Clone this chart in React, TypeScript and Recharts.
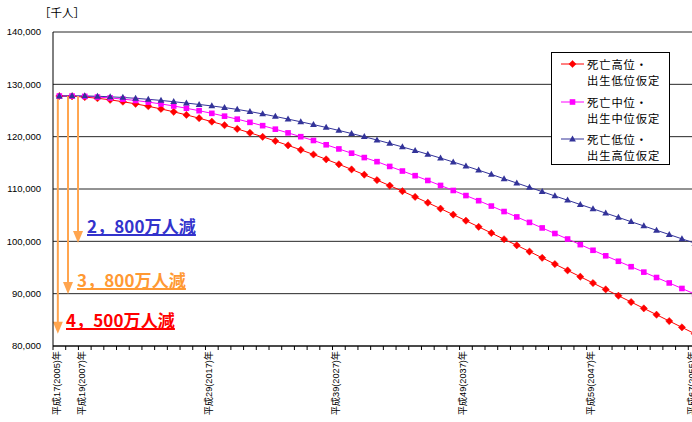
import React from "react";
import {
  LineChart,
  Line,
  XAxis,
  YAxis,
  CartesianGrid,
  Legend,
  ReferenceLine,
} from "recharts";

const YEARS = Array.from({ length: 51 }, (_, i) => 2005 + i);

// 死亡高位・出生低位仮定
const HIGH_DEATH_LOW_BIRTH = [
  127768, 127718, 127568, 127338, 127038, 126678, 126268, 125808, 125298, 124748,
  124158, 123528, 122868, 122190, 121480, 120740, 119970, 119170, 118340, 117480,
  116590, 115670, 114720, 113740, 112730, 111700, 110650, 109580, 108490, 107380,
  106250, 105100, 103940, 102770, 101590, 100400, 99240, 98050, 96850, 95650,
  94450, 93240, 92030, 90820, 89610, 88400, 87190, 85980, 84770, 83560, 82350,
];

// 死亡中位・出生中位仮定
const MID_DEATH_MID_BIRTH = [
  127768, 127762, 127694, 127568, 127395, 127176, 126913, 126605, 126254, 125862,
  125430, 124961, 124456, 123918, 123347, 122735, 122103, 121430, 120723, 119996,
  119270, 118451, 117655, 116841, 116007, 115224, 114310, 113434, 112546, 111629,
  110679, 109717, 108747, 107765, 106740, 105695, 104664, 103619, 102562, 101495,
  100443, 99370, 98291, 97233, 96192, 95152, 94116, 93086, 92046, 90992, 89930,
];

// 死亡低位・出生高位仮定
const LOW_DEATH_HIGH_BIRTH = [
  127768, 127800, 127780, 127720, 127620, 127490, 127330, 127140, 126920, 126680,
  126420, 126150, 125870, 125560, 125210, 124800, 124340, 123860, 123360, 122840,
  122310, 121760, 121190, 120600, 119990, 119360, 118710, 118040, 117350, 116640,
  115910, 115160, 114390, 113600, 112790, 111960, 111140, 110310, 109500, 108670,
  107860, 107030, 106220, 105390, 104580, 103750, 102940, 102110, 101300, 100470, 99660,
];

const LABEL_YEARS = [2005, 2007, 2017, 2027, 2037, 2047, 2055];
const LABEL_TEXTS = [
  "平成17(2005)年",
  "平成19(2007)年",
  "平成29(2017)年",
  "平成39(2027)年",
  "平成49(2037)年",
  "平成59(2047)年",
  "平成67(2055)年",
];
const Y_TICKS = [80000, 90000, 100000, 110000, 120000, 130000, 140000];

const SERIES = [
  { key: "high", name: "死亡高位・出生低位仮定", color: "#FF0000", marker: "diamond", values: HIGH_DEATH_LOW_BIRTH },
  { key: "mid", name: "死亡中位・出生中位仮定", color: "#FF00FF", marker: "square", values: MID_DEATH_MID_BIRTH },
  { key: "low", name: "死亡低位・出生高位仮定", color: "#333399", marker: "triangle", values: LOW_DEATH_HIGH_BIRTH },
];

// annotation arrows (x in year units) and texts
const ARROW_X = [2004.88, 2005.68, 2006.47];
const DECREASE_TEXTS = ["4，500万人減", "3，800万人減", "2，800万人減"];
const TEXT_COLORS = ["#FF0000", "#FF9933", "#3333CC"];
const ARROW_COLOR = "#FFA54F";

const data = YEARS.map((year, i) => ({
  year,
  high: HIGH_DEATH_LOW_BIRTH[i],
  mid: MID_DEATH_MID_BIRTH[i],
  low: LOW_DEATH_HIGH_BIRTH[i],
}));

const boundaryTicks = [...YEARS.map((y) => y - 0.5), 2055.5];
const xTicks = [...boundaryTicks, ...LABEL_YEARS].sort((a, b) => a - b);

const FONT = "'Liberation Sans', 'Noto Sans CJK JP', sans-serif";
const CJK = "'Noto Sans CJK JP', sans-serif";

function markerShape(type: string, cx: number, cy: number, color: string, key?: string) {
  if (type === "diamond") {
    return (
      <path key={key} d={`M${cx},${cy - 3.6}L${cx + 3.6},${cy}L${cx},${cy + 3.6}L${cx - 3.6},${cy}Z`} fill={color} stroke={color} strokeWidth={0.5} />
    );
  }
  if (type === "square") {
    return <rect key={key} x={cx - 2.8} y={cy - 2.8} width={5.6} height={5.6} fill={color} />;
  }
  return (
    <path key={key} d={`M${cx},${cy - 3.6}L${cx + 3.4},${cy + 2.4}L${cx - 3.4},${cy + 2.4}Z`} fill={color} />
  );
}

function XTick(props: any) {
  const { x, y, payload } = props;
  const v = payload.value;
  const idx = LABEL_YEARS.indexOf(v);
  if (idx >= 0) {
    const tx = x - 2.5;
    const ty = y + 5;
    return (
      <text
        x={tx}
        y={ty}
        transform={`rotate(-90 ${tx} ${ty})`}
        textAnchor="end"
        dominantBaseline="central"
        fontSize={9.2}
        fontFamily={FONT}
        fill="#000"
      >
        {LABEL_TEXTS[idx]}
      </text>
    );
  }
  return <line x1={x} y1={y} x2={x} y2={y + 4} stroke="#000" strokeWidth={1} />;
}

function ArrowShape(props: any) {
  const { x1, y1, x2, y2 } = props;
  const head = 12;
  return (
    <g>
      <line x1={x1} y1={y1} x2={x2} y2={y2 - head + 1} stroke={ARROW_COLOR} strokeWidth={2} />
      <path d={`M${x2 - 5},${y2 - head}L${x2 + 5},${y2 - head}L${x2},${y2}Z`} fill={ARROW_COLOR} />
    </g>
  );
}

function LegendBox() {
  return (
    <div
      style={{
        width: 119,
        height: 113,
        boxSizing: "border-box",
        border: "1px solid #000",
        background: "#fff",
        position: "relative",
        fontFamily: CJK,
        fontSize: 11.3,
        letterSpacing: 0.9,
        color: "#000",
      }}
    >
      {SERIES.map((s, i) => {
        const [l1, l2] = s.name.split("・");
        return (
          <div key={s.key} style={{ position: "absolute", left: 0, top: 3 + i * 37.6, width: 117 }}>
            <svg width={24} height={16} style={{ position: "absolute", left: 9, top: 0 }}>
              <line x1={0} y1={8} x2={23} y2={8} stroke={s.color} strokeWidth={1} />
              {markerShape(s.marker, 11.5, 8, s.color)}
            </svg>
            <div style={{ position: "absolute", left: 35, top: 0, lineHeight: "16px", whiteSpace: "nowrap" }}>
              {l1}・
              <br />
              {l2}
            </div>
          </div>
        );
      })}
    </div>
  );
}

export default function App() {
  return (
    <div
      style={{
        position: "absolute",
        left: 0,
        top: 0,
        width: 692,
        height: 422,
        overflow: "hidden",
        background: "#fff",
      }}
    >
      <div
        style={{
          position: "absolute",
          left: 39,
          top: 4,
          fontFamily: CJK,
          fontSize: 11.5,
          color: "#000",
          zIndex: 2,
        }}
      >
        ［千人］
      </div>
      <LineChart
        width={702}
        height={422}
        data={data}
        margin={{ top: 32, right: 1, left: 0, bottom: 0 }}
      >
        <CartesianGrid vertical={false} stroke="#000" strokeWidth={1} strokeOpacity={0.85} />
        <XAxis
          dataKey="year"
          type="number"
          domain={[2004.5, 2055.5]}
          ticks={xTicks}
          interval={0}
          height={76}
          tickLine={false}
          tickSize={0}
          tickMargin={0}
          axisLine={{ stroke: "#000" }}
          tick={<XTick />}
          allowDataOverflow
        />
        <YAxis
          type="number"
          domain={[80000, 140000]}
          ticks={Y_TICKS}
          width={53}
          tickLine={false}
          tickSize={0}
          tickMargin={12}
          axisLine={{ stroke: "#000" }}
          tick={{ fontSize: 9.5, fill: "#000", fontFamily: FONT }}
          tickFormatter={(v: number) => v.toLocaleString("en-US")}
        />
        {SERIES.map((s) => (
          <Line
            key={s.key}
            dataKey={s.key}
            name={s.name}
            stroke={s.color}
            strokeWidth={1}
            isAnimationActive={false}
            dot={(p: any) => markerShape(s.marker, p.cx, p.cy, s.color, `${s.key}-${p.index}`)}
            activeDot={false}
          />
        ))}
        {SERIES.map((s, i) => (
          <ReferenceLine
            key={`arrow-${s.key}`}
            segment={[
              { x: ARROW_X[i], y: s.values[0] },
              { x: ARROW_X[i], y: s.values[s.values.length - 1] },
            ]}
            ifOverflow="visible"
            shape={<ArrowShape />}
          />
        ))}
        <Legend
          layout="vertical"
          align="center"
          verticalAlign="middle"
          content={<LegendBox />}
          wrapperStyle={{ left: 551, top: 52, width: 119, height: 113 }}
        />
      </LineChart>
      {DECREASE_TEXTS.map((t, i) => (
        <div
          key={t}
          style={{
            position: "absolute",
            left: [66, 77, 87][i],
            top: [311, 271, 217][i],
            fontFamily: CJK,
            fontWeight: 700,
            fontSize: 17,
            lineHeight: "18px",
            color: TEXT_COLORS[i],
            textDecoration: "underline",
            textDecorationThickness: 2,
            textUnderlineOffset: 1,
            letterSpacing: 0.1,
            whiteSpace: "nowrap",
          }}
        >
          {t}
        </div>
      ))}
    </div>
  );
}
